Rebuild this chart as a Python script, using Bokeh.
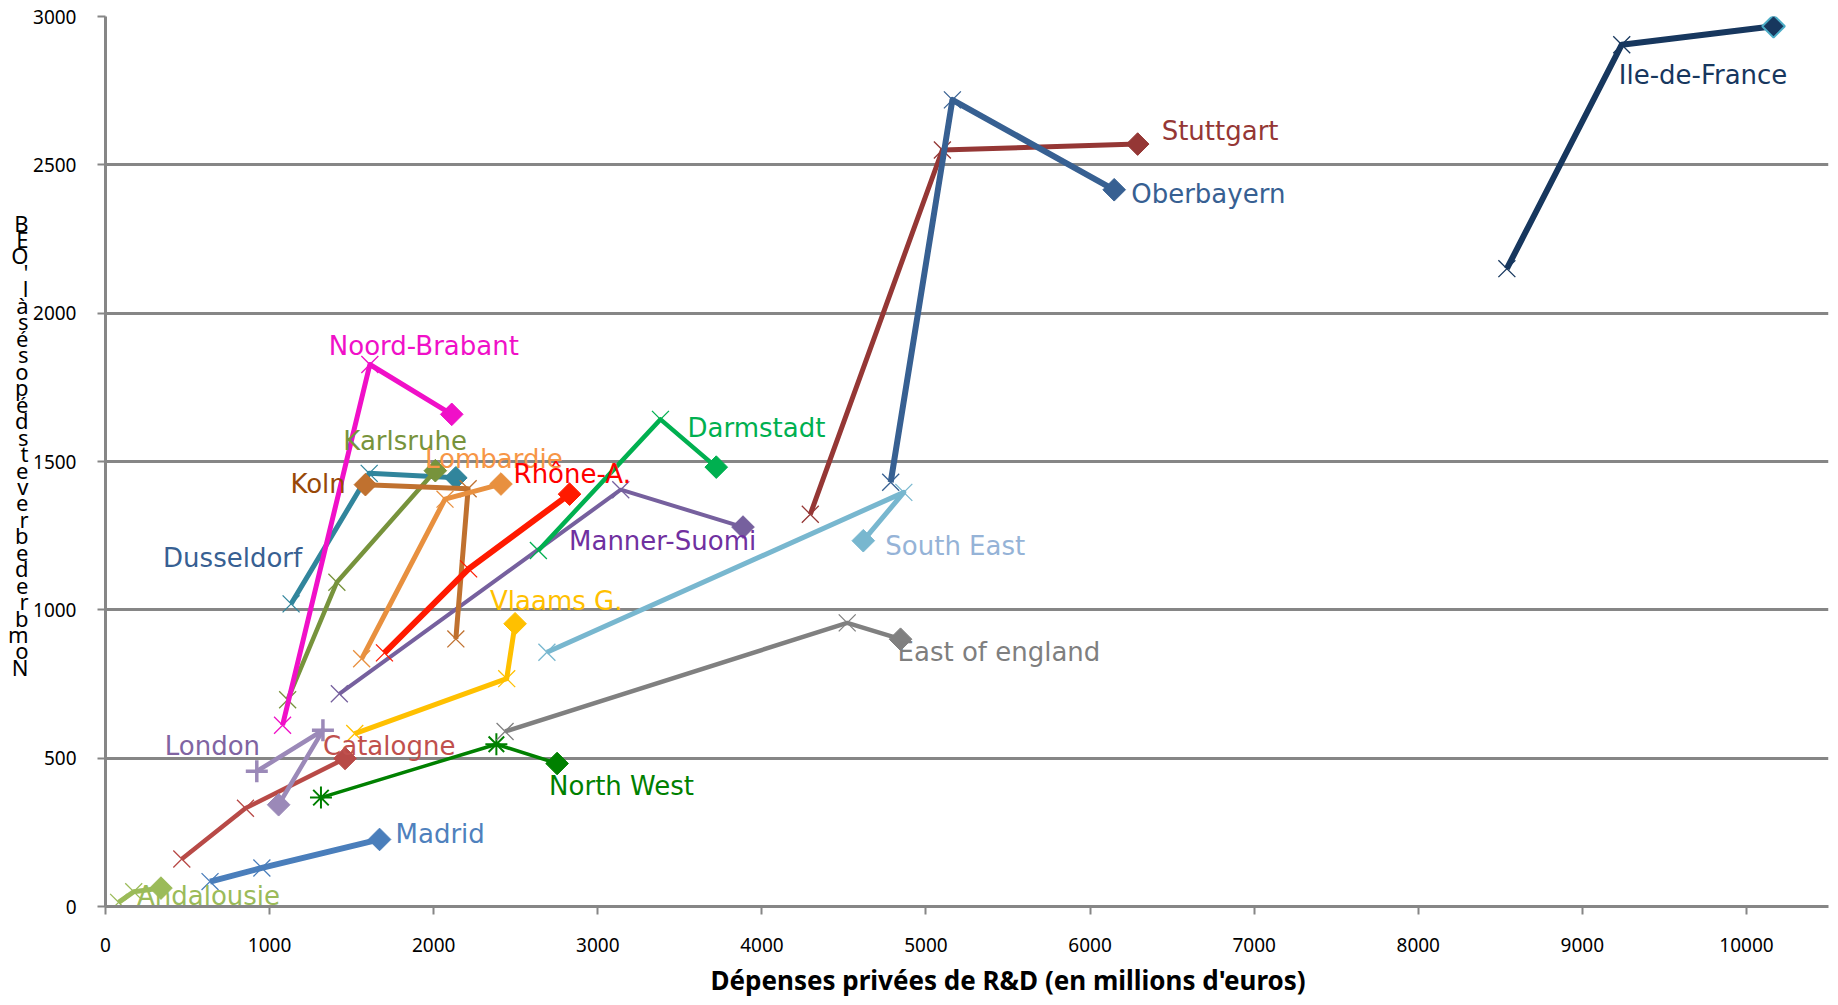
import math
from bokeh.plotting import figure
from bokeh.models import Label, Title, FixedTicker, Range1d, LinearAxis, AllLabels
from bokeh.embed import file_html
from bokeh.resources import INLINE

# ---------------- data ----------------
x_ticks = [0, 1000, 2000, 3000, 4000, 5000, 6000, 7000, 8000, 9000, 10000]
y_ticks = [0, 500, 1000, 1500, 2000, 2500, 3000]

x_title = "Dépenses privées de R&D (en millions d'euros)"
y_title = "Nombre de brevets déposés à l'OEB"

andalousie_x = [80, 172, 338]
andalousie_y = [14, 50, 62]
madrid_x = [637, 953, 1670]
madrid_y = [84, 130, 226]
catalogne_x = [465, 853, 1460]
catalogne_y = [160, 331, 499]
london_x = [922, 1325, 1055]
london_y = [456, 594, 343]
north_west_x = [1313, 2382, 2752]
north_west_y = [367, 547, 482]
east_england_x = [2435, 4520, 4845]
east_england_y = [590, 956, 901]
vlaams_x = [1519, 2445, 2496]
vlaams_y = [583, 768, 953]
south_east_x = [2690, 4865, 4618]
south_east_y = [857, 1396, 1233]
manner_suomi_x = [1425, 3140, 3885]
manner_suomi_y = [717, 1405, 1279]
darmstadt_x = [2638, 3382, 3722]
darmstadt_y = [1200, 1642, 1481]
dusseldorf_x = [1131, 1607, 2135]
dusseldorf_y = [1020, 1460, 1445]
karlsruhe_x = [1110, 1410, 2010]
karlsruhe_y = [697, 1093, 1469]
koln_x = [2135, 2210, 1584]
koln_y = [902, 1408, 1422]
lombardie_x = [1561, 2069, 2410]
lombardie_y = [835, 1373, 1424]
rhone_x = [1700, 2213, 2828]
rhone_y = [855, 1138, 1390]
noord_brabant_x = [1079, 1611, 2110]
noord_brabant_y = [611, 1827, 1659]
stuttgart_x = [4295, 5100, 6290]
stuttgart_y = [1322, 2550, 2570]
oberbayern_x = [4785, 5161, 6147]
oberbayern_y = [1430, 2719, 2416]
ile_de_france_x = [8540, 9240, 10165]
ile_de_france_y = [2150, 2905, 2967]

series = [
    ("Andalousie", andalousie_x, andalousie_y),
    ("Madrid", madrid_x, madrid_y),
    ("Catalogne", catalogne_x, catalogne_y),
    ("London", london_x, london_y),
    ("North West", north_west_x, north_west_y),
    ("East of england", east_england_x, east_england_y),
    ("Vlaams G.", vlaams_x, vlaams_y),
    ("South East", south_east_x, south_east_y),
    ("Manner-Suomi", manner_suomi_x, manner_suomi_y),
    ("Darmstadt", darmstadt_x, darmstadt_y),
    ("Dusseldorf", dusseldorf_x, dusseldorf_y),
    ("Karlsruhe", karlsruhe_x, karlsruhe_y),
    ("Koln", koln_x, koln_y),
    ("Lombardie", lombardie_x, lombardie_y),
    ("Rhône-A.", rhone_x, rhone_y),
    ("Noord-Brabant", noord_brabant_x, noord_brabant_y),
    ("Stuttgart", stuttgart_x, stuttgart_y),
    ("Oberbayern", oberbayern_x, oberbayern_y),
    ("Ile-de-France", ile_de_france_x, ile_de_france_y),
]

# ---------------- styles ----------------
# line colour, label colour, line width, marker, label anchor index, dx, dy (px, up positive)
styles = {
    "Andalousie":      ("#9BBB59", "#9BBB59", 5, "x", 2, -24, -8),
    "Madrid":          ("#4A7EBB", "#4F81BD", 6, "x", 2, 16, 5),
    "Catalogne":       ("#B84A47", "#C0504D", 4.5, "x", 2, -22, 12),
    "London":          ("#9B89B8", "#8064A2", 4.5, "cross", 0, -92, 25),
    "North West":      ("#008000", "#008000", 3.5, "asterisk", 2, -8, -22),
    "East of england": ("#808080", "#7F7F7F", 4.5, "x", 2, -3, -13),
    "Vlaams G.":       ("#FFC000", "#FFC000", 5, "x", 2, -25, 23),
    "South East":      ("#78B7CF", "#95B3D7", 5, "x", 2, 22, -5),
    "Manner-Suomi":    ("#76609E", "#7030A0", 4, "x", 2, -174, -14),
    "Darmstadt":       ("#00B050", "#00B050", 4.5, "x", 1, 27, -9),
    "Dusseldorf":      ("#31859C", "#376092", 5, "x", 0, -128, 46),
    "Karlsruhe":       ("#77933C", "#77933C", 4.5, "x", 2, -92, 30),
    "Koln":            ("#C0712F", "#984807", 5, "x", 2, -75, 1),
    "Lombardie":       ("#E8903F", "#F79646", 5, "x", 2, -76, 25),
    "Rhône-A.":        ("#FF1A00", "#FF0000", 6, "x", 2, -56, 20),
    "Noord-Brabant":   ("#F010C8", "#F010C8", 5, "x", 1, -41, 18),
    "Stuttgart":       ("#953735", "#953735", 5, "x", 2, 24, 13),
    "Oberbayern":      ("#376092", "#376092", 6, "x", 2, 17, -4),
    "Ile-de-France":   ("#17375E", "#17375E", 6, "x", 1, -3, -30),
}

GRID = "#868686"
FONT = "Noto Sans"
LABEL_FONT = "DejaVu Sans"

p = figure(width=1838, height=1002, output_backend="svg", toolbar_location=None,
           x_range=Range1d(0, 10500), y_range=Range1d(0, 3000),
           min_border_left=105, min_border_right=10, min_border_top=16, min_border_bottom=94)
p.outline_line_color = None
p.background_fill_color = "white"
p.border_fill_color = "white"

p.xgrid.visible = False
p.ygrid.grid_line_color = GRID
p.ygrid.grid_line_width = 3
p.xaxis.ticker = FixedTicker(ticks=x_ticks)
p.yaxis.ticker = FixedTicker(ticks=y_ticks)
for ax in (p.xaxis, p.yaxis):
    ax.axis_line_color = GRID
    ax.axis_line_width = 3
    ax.major_tick_line_color = GRID
    ax.major_tick_line_width = 2
    ax.major_tick_in = 0
    ax.major_tick_out = 8
    ax.minor_tick_line_color = None
    ax.major_label_text_font = FONT
    ax.major_label_text_font_size = "19px"
    ax.major_label_text_color = "#000000"
p.xaxis.major_label_standoff = 23
p.yaxis.major_label_standoff = 21

for name, xs, ys in series:
    lc, tc, lw, mk, ai, dx, dy = styles[name]
    p.line(xs, ys, line_color=lc, line_width=lw, line_join="round")
    if mk == "cross":
        p.scatter(xs[:-1], ys[:-1], marker=mk, size=22, line_color=lc, line_width=3.5)
    elif mk == "asterisk":
        p.scatter(xs[:-1], ys[:-1], marker=mk, size=22, line_color=lc, line_width=2)
    else:
        p.scatter(xs[:-1], ys[:-1], marker=mk, size=24, line_color=lc, line_width=1.3)
    edge = "#4BACC6" if name == "Ile-de-France" else lc
    p.scatter(xs[-1:], ys[-1:], marker="square", angle=math.pi / 4, size=16,
              fill_color=lc, line_color=edge, line_width=2 if name == "Ile-de-France" else 1)
    p.add_layout(Label(x=xs[ai], y=ys[ai], x_offset=dx, y_offset=dy, text=name,
                       text_align="left", text_baseline="middle", text_font=LABEL_FONT,
                       text_font_size="26px", text_color=tc))

# y-axis title: characters stacked upright, bottom (N) to top (B), drawn as an
# extra label-only axis so that it sits outside the frame
chars = [c for c in y_title if c != " "]
FRAME_H = 892.0
px_per_unit = FRAME_H / 3000.0
first_center_px = 240.0          # pixels above the frame bottom
step_px = 16.5
title_ticks = [int(round((first_center_px + step_px * i) / px_per_unit)) for i in range(len(chars))]
title_axis = LinearAxis(ticker=FixedTicker(ticks=title_ticks),
                        major_label_overrides={t: c for t, c in zip(title_ticks, chars)},
                        major_label_orientation="horizontal",
                        major_label_policy=AllLabels(),
                        axis_line_color=None, major_tick_line_color=None,
                        minor_tick_line_color=None, major_tick_in=0, major_tick_out=0,
                        major_label_standoff=2, major_label_text_font=FONT,
                        major_label_text_font_size="22px", major_label_text_color="#000000")
p.add_layout(title_axis, "left")

p.add_layout(Title(text=x_title, align="left", offset=605, standoff=10,
                   text_font=FONT, text_font_size="26px", text_font_style="bold",
                   text_color="#000000"), "below")

open("out.html", "w").write(file_html(p, INLINE))
